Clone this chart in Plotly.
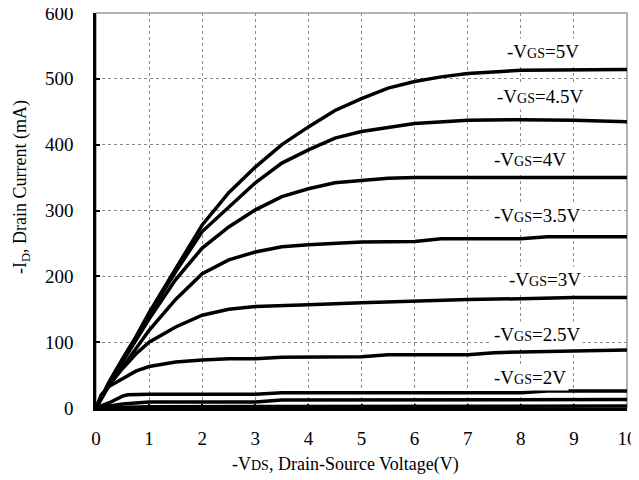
import plotly.graph_objects as go

# ---- data ----
v_5 = [0, 0.25, 0.5, 0.75, 1, 1.5, 2, 2.5, 3, 3.5, 4, 4.5, 5, 5.5, 6, 6.5, 7, 8, 9, 10]
i_5 = [0, 40, 75, 108, 145, 212, 278, 327, 366, 400, 427, 452, 470, 486, 496, 503, 508, 513, 514, 514]

v_45 = [0, 0.25, 0.5, 0.75, 1, 1.5, 2, 2.5, 3, 3.5, 4, 4.5, 5, 5.5, 6, 7, 8, 9, 10]
i_45 = [0, 39, 73, 106, 142, 207, 268, 305, 342, 372, 392, 410, 420, 426, 432, 437, 438, 437, 435]

v_4 = [0, 0.25, 0.5, 0.75, 1, 1.5, 2, 2.5, 3, 3.5, 4, 4.5, 5, 5.5, 6, 7, 8, 9, 10]
i_4 = [0, 38, 70, 102, 135, 195, 243, 275, 301, 321, 333, 342, 346, 349, 350, 350, 350, 350, 350]

v_35 = [0, 0.25, 0.5, 0.75, 1, 1.5, 2, 2.5, 3, 3.5, 4, 5, 6, 6.5, 8, 8.5, 10]
i_35 = [0, 35, 62, 90, 118, 165, 204, 225, 237, 245, 248, 252, 253, 257, 257, 260, 260]

v_3 = [0, 0.25, 0.5, 0.75, 1, 1.5, 2, 2.5, 3, 3.5, 4, 5, 6, 7, 8, 9, 10]
i_3 = [0, 35, 60, 82, 100, 123, 141, 150, 154, 156, 157, 160, 163, 165, 166, 168, 168]

v_25 = [0, 0.1, 0.25, 0.5, 0.75, 1, 1.5, 2, 2.5, 3, 3.5, 5, 5.5, 7, 7.5, 8, 9, 10]
i_25 = [0, 20, 33, 45, 56, 63, 70, 73, 75, 75, 77, 78, 81, 81, 84, 85, 86, 88]

v_2 = [0, 0.25, 0.5, 0.6, 1, 3, 3.5, 8, 8.5, 10]
i_2 = [0, 8, 18, 20, 21, 21, 23, 23, 26, 26]

v_15 = [0, 0.5, 1, 3, 3.5, 10]
i_15 = [0, 6, 9, 9, 12, 13]

v_1 = [0, 1, 10]
i_1 = [0, 2, 3]

curves = [(v_5, i_5), (v_45, i_45), (v_4, i_4), (v_35, i_35), (v_3, i_3),
          (v_25, i_25), (v_2, i_2), (v_15, i_15), (v_1, i_1)]

label_vgs = ["5", "4.5", "4", "3.5", "3", "2.5", "2"]
label_x = [8.42, 8.36, 8.17, 8.31, 8.46, 8.31, 8.17]
label_y = [541, 473, 377, 293, 195, 111, 47]

x_ticks = list(range(0, 11))
y_ticks = [0, 100, 200, 300, 400, 500, 600]

FONT = "Liberation Serif"

# the page adds an 8px body margin, so the figure is sized / offset to match
W, H = 631, 472
L, R, T, B = 88, 12, 5, 72
pw, ph = W - L - R, H - T - B
OFF = 8

fig = go.Figure()
for vx, iy in curves:
    fig.add_trace(go.Scatter(x=vx, y=iy, mode="lines",
                             line=dict(color="black", width=3.5),
                             showlegend=False, hoverinfo="skip"))

annotations = []
for s, lx, ly in zip(label_vgs, label_x, label_y):
    annotations.append(dict(
        x=lx, y=ly, xref="x", yref="y", showarrow=False,
        xanchor="center", yanchor="middle",
        text="-V<span style='font-size:14px'>GS</span>=" + s + "V",
        font=dict(family=FONT, size=19, color="black"),
        bgcolor="white", borderpad=2))

annotations.append(dict(
    x=(21 - OFF - L) / pw, y=(H - B - (187 - OFF)) / ph, xref="paper", yref="paper",
    xanchor="center", yanchor="middle",
    showarrow=False, textangle=-90,
    text="-I<sub>D</sub>, Drain Current (mA)",
    font=dict(family=FONT, size=18, color="black")))
annotations.append(dict(
    x=(345 - OFF - L) / pw, y=(H - B - (464 - OFF)) / ph, xref="paper", yref="paper",
    xanchor="center", yanchor="middle",
    showarrow=False,
    text="-V<span style='font-size:14px'>DS</span>, Drain-Source Voltage(V)",
    font=dict(family=FONT, size=18, color="black")))

fig.update_layout(
    width=W, height=H,
    margin=dict(l=L, r=R, t=T, b=B, autoexpand=False),
    paper_bgcolor="white", plot_bgcolor="white",
    font=dict(family=FONT, size=19, color="black"),
    annotations=annotations,
    shapes=[dict(type="rect", xref="paper", yref="paper", x0=0, y0=0, x1=1, y1=1,
                 line=dict(color="#9a9a9a", width=1.5), layer="below")],
)
fig.update_xaxes(range=[0, 10], tickvals=x_ticks, ticks="inside", ticklen=4,
                 tickcolor="black", tickwidth=2, automargin=False,
                 ticklabeloverflow="allow",
                 showgrid=True, gridcolor="#8a8a8a", griddash="dot", gridwidth=1,
                 showline=True, linecolor="black", linewidth=2.5,
                 zeroline=False, ticklabelstandoff=11,
                 tickfont=dict(family=FONT, size=19))
fig.update_yaxes(range=[0, 600], tickvals=y_ticks, ticks="inside", ticklen=4,
                 tickcolor="black", tickwidth=2, automargin=False,
                 ticklabeloverflow="allow",
                 showgrid=True, gridcolor="#8a8a8a", griddash="dot", gridwidth=1,
                 showline=True, linecolor="black", linewidth=2.5,
                 zeroline=False, ticklabelstandoff=16,
                 tickfont=dict(family=FONT, size=19))

fig.write_html("out.html")
